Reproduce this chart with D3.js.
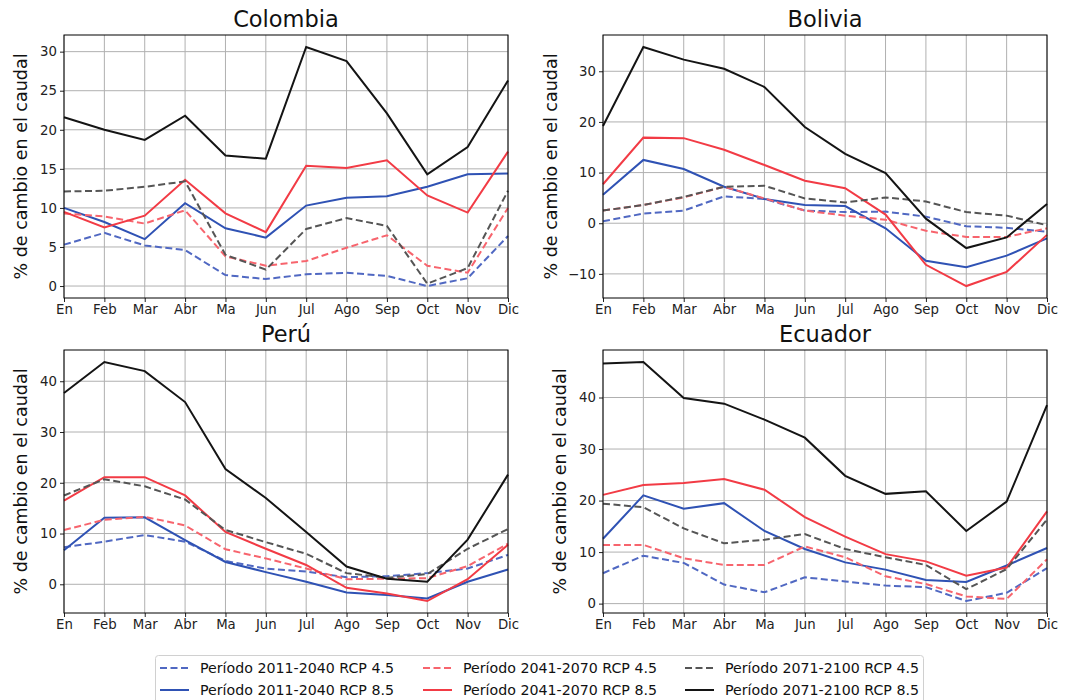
<!DOCTYPE html>
<html>
<head>
  <meta charset="utf-8">
  <title>% de cambio en el caudal</title>
  <script src="https://d3js.org/d3.v7.min.js"></script>
  <style>
    body { margin: 0; background: #fff; }
    text { font-family: "DejaVu Sans", sans-serif; }
  </style>
</head>
<body>
  <div id="chart"></div>
  <script>
    const months = ["En", "Feb", "Mar", "Abr", "Ma", "Jun", "Jul", "Ago", "Sep", "Oct", "Nov", "Dic"];

    const seriesNames = [
      "Período 2011-2040 RCP 4.5", "Período 2011-2040 RCP 8.5",
      "Período 2041-2070 RCP 4.5", "Período 2041-2070 RCP 8.5",
      "Período 2071-2100 RCP 4.5", "Período 2071-2100 RCP 8.5"
    ];

    // one row per series, in the order of seriesNames
    const colombia = [
      [5.3, 6.8, 5.2, 4.6, 1.4, 0.9, 1.5, 1.7, 1.3, 0.0, 1.0, 6.4],
      [10.0, 8.2, 6.0, 10.6, 7.4, 6.2, 10.3, 11.3, 11.5, 12.7, 14.3, 14.4],
      [9.3, 8.9, 8.0, 9.7, 3.8, 2.6, 3.2, 4.9, 6.5, 2.6, 1.7, 10.0],
      [9.5, 7.5, 9.0, 13.6, 9.3, 6.9, 15.4, 15.1, 16.1, 11.6, 9.4, 17.2],
      [12.1, 12.2, 12.7, 13.4, 4.0, 2.1, 7.3, 8.7, 7.7, 0.3, 2.3, 12.2],
      [21.6, 20.0, 18.7, 21.8, 16.7, 16.3, 30.6, 28.8, 22.1, 14.3, 17.8, 26.3]
    ];
    const bolivia = [
      [0.4, 1.9, 2.5, 5.3, 4.8, 2.5, 2.2, 2.3, 1.3, -0.6, -0.9, -1.7],
      [5.6, 12.5, 10.7, 7.2, 4.8, 3.6, 3.4, -1.0, -7.4, -8.7, -6.4, -3.0],
      [2.5, 3.6, 5.1, 7.2, 4.9, 2.5, 1.5, 0.7, -1.5, -2.7, -2.7, -1.0],
      [7.7, 16.9, 16.8, 14.5, 11.5, 8.4, 6.9, 1.7, -8.2, -12.4, -9.6, -2.3],
      [2.5, 3.6, 5.2, 7.2, 7.4, 4.9, 4.1, 5.1, 4.3, 2.2, 1.5, -0.4],
      [19.2, 34.8, 32.3, 30.5, 26.9, 19.0, 13.7, 9.9, 0.9, -4.9, -2.8, 3.8]
    ];
    const peru = [
      [7.3, 8.4, 9.7, 8.4, 4.6, 3.1, 2.5, 1.4, 1.6, 2.2, 3.1, 5.8],
      [6.7, 13.1, 13.2, 8.7, 4.4, 2.4, 0.5, -1.6, -2.1, -2.8, 0.5, 2.9],
      [10.7, 12.7, 13.3, 11.6, 6.9, 5.1, 3.1, 1.0, 1.1, 1.2, 3.6, 8.0],
      [16.5, 21.1, 21.1, 17.5, 10.3, 7.0, 3.8, -0.7, -1.8, -3.3, 1.0, 7.8],
      [17.5, 20.7, 19.3, 16.7, 10.7, 8.3, 6.0, 2.2, 1.3, 2.0, 7.0, 10.9],
      [37.7, 43.8, 42.0, 35.9, 22.7, 17.0, 10.3, 3.5, 1.1, 0.5, 8.8, 21.6]
    ];
    const ecuador = [
      [5.9, 9.3, 7.9, 3.7, 2.2, 5.1, 4.3, 3.5, 3.2, 0.5, 2.1, 6.9],
      [12.6, 21.0, 18.4, 19.5, 14.1, 10.6, 8.0, 6.6, 4.6, 4.2, 7.4, 10.8],
      [11.4, 11.4, 8.8, 7.5, 7.5, 11.1, 9.0, 5.3, 3.8, 1.4, 0.9, 8.6],
      [21.1, 23.0, 23.4, 24.2, 22.1, 16.8, 13.0, 9.6, 8.2, 5.4, 7.0, 17.9],
      [19.4, 18.7, 14.6, 11.7, 12.4, 13.5, 10.6, 9.0, 7.5, 2.8, 6.7, 16.3],
      [46.6, 46.9, 39.9, 38.8, 35.7, 32.2, 24.8, 21.3, 21.8, 14.1, 19.8, 38.5]
    ];

    const colombiaTicks = [0, 5, 10, 15, 20, 25, 30];
    const boliviaTicks = [-10, 0, 10, 20, 30];
    const peruTicks = [0, 10, 20, 30, 40];
    const ecuadorTicks = [0, 10, 20, 30, 40];

    const colors = ["#5068c2", "#2f52b4", "#f7646d", "#f23b45", "#555555", "#141414"];
    const dashed = [true, false, true, false, true, false];

    const svg = d3.select("#chart").append("svg")
      .attr("width", 1070).attr("height", 700)
      .style("background", "#fff");

    const panels = [
      {title: "Colombia", data: colombia, ticks: colombiaTicks, left: 64, top: 35, labelOff: 43},
      {title: "Bolivia", data: bolivia, ticks: boliviaTicks, left: 603, top: 35, labelOff: 52},
      {title: "Perú", data: peru, ticks: peruTicks, left: 64, top: 350, labelOff: 43},
      {title: "Ecuador", data: ecuador, ticks: ecuadorTicks, left: 603, top: 350, labelOff: 43}
    ];
    const pw = 444, ph = 263;

    panels.forEach(p => {
      const g = svg.append("g").attr("transform", `translate(${p.left},${p.top})`);

      const x = d3.scalePoint().domain(months).range([0, pw]);
      const ext = d3.extent(p.data.flat());
      const pad = (ext[1] - ext[0]) * 0.05;
      const y = d3.scaleLinear().domain([ext[0] - pad, ext[1] + pad]).range([ph, 0]);

      // grid
      g.append("g").selectAll("line").data(months).join("line")
        .attr("x1", d => x(d)).attr("x2", d => x(d))
        .attr("y1", 0).attr("y2", ph)
        .attr("stroke", "#b0b0b0").attr("stroke-width", 1);
      g.append("g").selectAll("line").data(p.ticks).join("line")
        .attr("x1", 0).attr("x2", pw)
        .attr("y1", d => y(d)).attr("y2", d => y(d))
        .attr("stroke", "#b0b0b0").attr("stroke-width", 1);

      // axes
      const ax = g.append("g").attr("transform", `translate(0,${ph})`)
        .call(d3.axisBottom(x).tickSize(4).tickPadding(3));
      const ay = g.append("g")
        .call(d3.axisLeft(y).tickValues(p.ticks).tickSize(4).tickPadding(3)
          .tickFormat(d => d < 0 ? "\u2212" + Math.abs(d) : d));
      [ax, ay].forEach(a => {
        a.select(".domain").remove();
        a.selectAll("text").attr("font-size", 13.3).attr("fill", "#222")
          .style("font-family", "'DejaVu Sans', sans-serif");
        a.selectAll("line").attr("stroke", "#222");
      });

      // lines
      const line = d3.line().x((d, i) => x(months[i])).y(d => y(d));
      p.data.forEach((vals, k) => {
        g.append("path").datum(vals)
          .attr("d", line)
          .attr("fill", "none")
          .attr("stroke", colors[k])
          .attr("stroke-width", 2)
          .attr("stroke-dasharray", dashed[k] ? "7,3.5" : null);
      });

      // frame
      g.append("rect").attr("width", pw).attr("height", ph)
        .attr("fill", "none").attr("stroke", "#000").attr("stroke-width", 1);

      g.append("text").attr("x", pw / 2).attr("y", -8)
        .attr("text-anchor", "middle").attr("font-size", 22.5).attr("fill", "#111")
        .text(p.title);

      g.append("text")
        .attr("transform", `translate(${-p.labelOff + 6},${ph / 2}) rotate(-90)`)
        .attr("text-anchor", "middle").attr("font-size", 17.5).attr("fill", "#111")
        .text("% de cambio en el caudal");
    });

    // legend
    const leg = svg.append("g");
    leg.append("rect").attr("x", 155.5).attr("y", 655.5).attr("width", 768).attr("height", 60)
      .attr("rx", 3).attr("fill", "#fff").attr("stroke", "#d0d0d0");
    const colX = [160, 423, 685];
    const rowY = [668, 690];
    seriesNames.forEach((name, k) => {
      const cx = colX[Math.floor(k / 2)], cy = rowY[k % 2];
      leg.append("line").attr("x1", cx).attr("x2", cx + 29).attr("y1", cy).attr("y2", cy)
        .attr("stroke", colors[k]).attr("stroke-width", 2)
        .attr("stroke-dasharray", dashed[k] ? "7,3.5" : null);
      leg.append("text").attr("x", cx + 40).attr("y", cy + 5)
        .attr("font-size", 14.2).attr("fill", "#111").text(name);
    });
  </script>
</body>
</html>
